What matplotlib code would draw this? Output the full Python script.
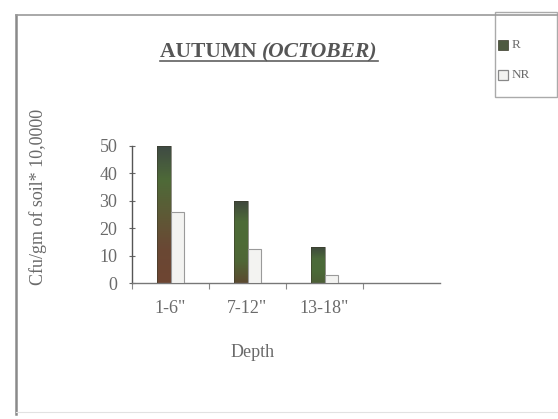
import matplotlib
matplotlib.use("Agg")
import numpy as np
import matplotlib.pyplot as plt
from matplotlib.lines import Line2D
from matplotlib.patches import Rectangle
from matplotlib.colors import LinearSegmentedColormap

plt.rcParams['font.family'] = ['Liberation Serif', 'DejaVu Serif']

depths = ['1-6"', '7-12"', '13-18"']
r_values = [50, 30, 13]
nr_values = [26, 12.5, 3]
y_ticks = [0, 10, 20, 30, 40, 50]

# shading of each R bar, bottom to top
r_shades = [
    ['#6e4532', '#6a4834', '#5d5a36', '#4e6a38', '#3f4a44'],
    ['#5b4a30', '#4f6636', '#4e6b36', '#4d6a38', '#3f463c'],
    ['#4d5e36', '#4b6a38', '#4c6a3a', '#3f4a3c'],
]
nr_color = '#f3f3f1'
text_color = '#6a6a6a'

fig = plt.figure(figsize=(5.58, 4.19), dpi=100)

# outer chart frame
fig.add_artist(Line2D([16/558, 16/558], [1 - 15/419, 1 - 414/419], color='#8a8a8a', lw=1.8))
fig.add_artist(Line2D([16/558, 1.0], [1 - 15/419, 1 - 15/419], color='#9a9a9a', lw=1.2))
fig.add_artist(Line2D([16/558, 1.0], [1 - 412/419, 1 - 412/419], color='#e2e2e2', lw=0.8))

ax = fig.add_axes([132/558, 1 - 283/419, 308/558, 137/419])
x = list(range(len(depths)))
w = 0.17
for i in x:
    rb = ax.bar(i + 0.5, r_values[i], width=-w, align='edge', color='none',
                edgecolor='#3a3a2a', linewidth=0.4, zorder=3)[0]
    cmap = LinearSegmentedColormap.from_list(f'shade{i}', r_shades[i])
    grad = np.linspace(0, 1, 64).reshape(-1, 1)
    im = ax.imshow(grad, cmap=cmap, origin='lower', aspect='auto',
                   extent=(i + 0.5 - w, i + 0.5, 0, r_values[i]), zorder=2)
    im.set_clip_path(rb)
    ax.bar(i + 0.5, nr_values[i], width=w, align='edge', color=nr_color,
           edgecolor='#9a9a9a', linewidth=0.8, zorder=3)

ax.set_xlim(0, 4)
ax.set_ylim(0, 50)
ax.set_yticks(y_ticks)
ax.set_xticks([i + 0.5 for i in x])
ax.set_xticklabels(depths)
ax.set_xticks([0, 1, 2, 3], minor=True)
for s in ['top', 'right']:
    ax.spines[s].set_visible(False)
ax.spines['left'].set_color('#555555')
ax.spines['bottom'].set_color('#777777')
ax.spines['left'].set_linewidth(1.0)
ax.spines['bottom'].set_linewidth(1.0)
ax.tick_params(axis='y', direction='inout', length=5, width=0.8, colors='#666666',
               labelcolor=text_color, labelsize=13, pad=8)
ax.tick_params(axis='x', which='major', length=0, labelcolor=text_color, labelsize=13, pad=12)
ax.tick_params(axis='x', which='minor', direction='out', length=4, width=0.8, colors='#888888')
ax.patch.set_alpha(0)

fig.text(253/558, 1 - 352/419, 'Depth', ha='center', va='center', fontsize=13, color=text_color)
fig.text(38/558, 1 - 197/419, 'Cfu/gm of soil* 10,0000', rotation=90, ha='center', va='center',
         fontsize=13, color=text_color)

# title with underline
base_y = 1 - 57/419
t1 = fig.text(160/558, base_y, 'AUTUMN ', ha='left', va='baseline', fontsize=15.5,
              fontweight='bold', color='#565656')
fig.canvas.draw()
bb = t1.get_window_extent()
t2 = fig.text(bb.x1 / fig.bbox.width, base_y, '(OCTOBER)', ha='left', va='baseline',
              fontsize=15.5, fontweight='bold', style='italic', color='#565656')
fig.canvas.draw()
bb2 = t2.get_window_extent()
uy = 1 - 61/419
fig.add_artist(Line2D([160/558, bb2.x1 / fig.bbox.width], [uy, uy], color='#606060', lw=1.2))

# legend box
fig.add_artist(Rectangle((495/558, 1 - 97/419), 62/558, 85/419, transform=fig.transFigure,
                         facecolor='white', edgecolor='#aaaaaa', lw=1.0))
fig.add_artist(Rectangle((498/558, 1 - 50/419), 10/558, 10/419, transform=fig.transFigure,
                         facecolor='#4e5a40', edgecolor='#3a3a2a', lw=0.5))
fig.text(512/558, 1 - 45/419, 'R', ha='left', va='center', fontsize=9.5, color=text_color)
fig.add_artist(Rectangle((498/558, 1 - 80/419), 10/558, 10/419, transform=fig.transFigure,
                         facecolor=nr_color, edgecolor='#888888', lw=0.9))
fig.text(512/558, 1 - 75/419, 'NR', ha='left', va='center', fontsize=9.5, color=text_color)

fig.savefig('out.png', dpi=100)
